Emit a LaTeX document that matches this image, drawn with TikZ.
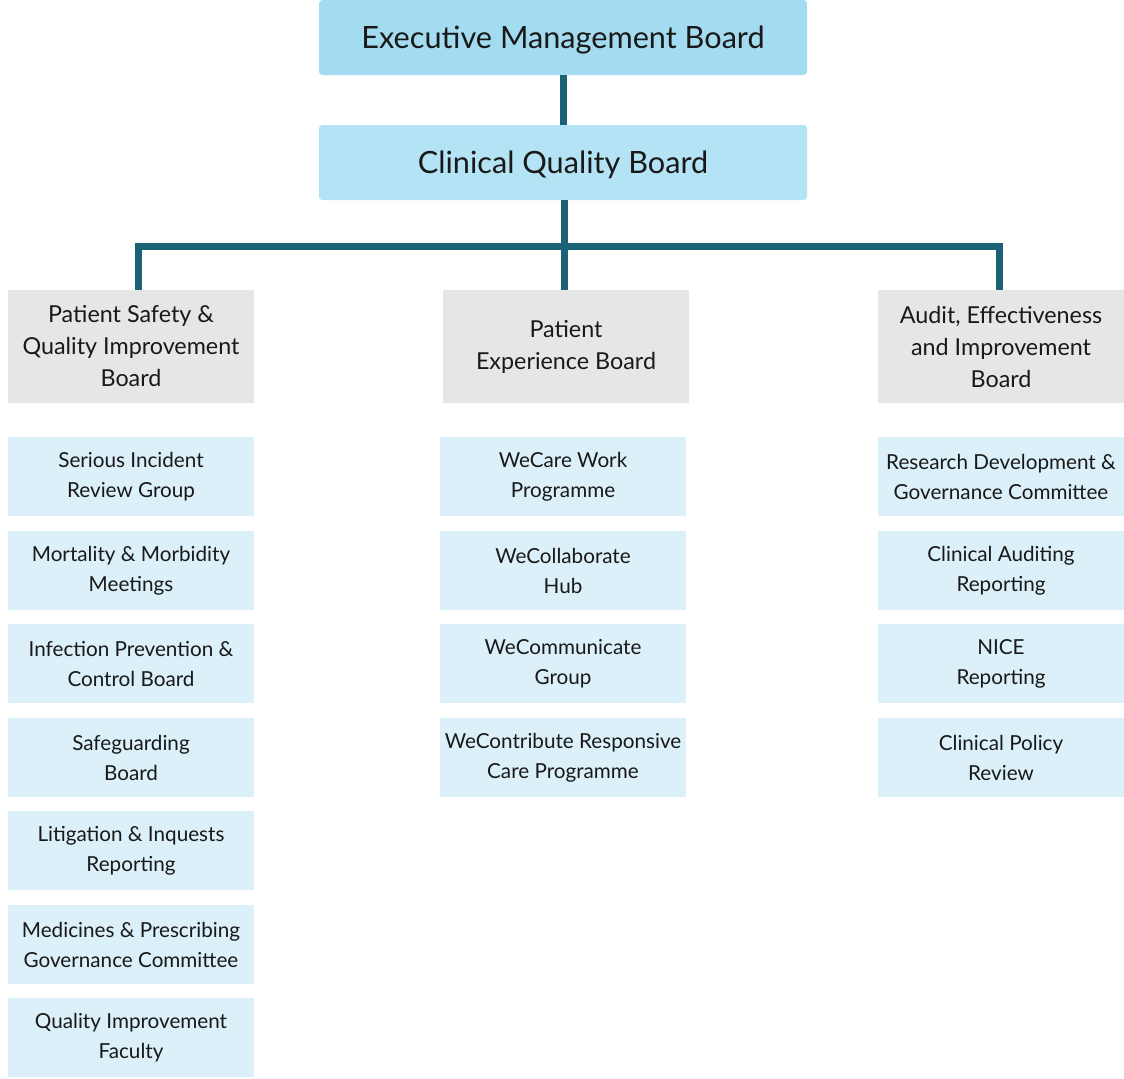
\documentclass[tikz,border=0pt]{standalone}
\usepackage{fontspec}
\setmainfont{Lato}
\usetikzlibrary{positioning}

\definecolor{topblue}{HTML}{A3DBF0}
\definecolor{midblue}{HTML}{B3E3F5}
\definecolor{boardgrey}{HTML}{E5E6E6}
\definecolor{groupblue}{HTML}{DBF0F8}
\definecolor{linkteal}{HTML}{1B6276}

\begin{document}
\begin{tikzpicture}[x=0.75pt, y=-0.75pt]

		\tikzstyle{top}=[rectangle, rounded corners=2.5pt, fill=topblue, text=black!90, minimum width=366pt, minimum height=56.25pt, text depth=0pt, font=\fontsize{23}{28}\selectfont]
		\tikzstyle{quality}=[top, fill=midblue]
		\tikzstyle{board}=[rectangle, fill=boardgrey, text=black!90, minimum width=184.5pt, minimum height=84.75pt, inner sep=0pt, align=center, font=\fontsize{17.5}{24}\selectfont]
		\tikzstyle{group}=[rectangle, fill=groupblue, text=black!90, minimum width=184.5pt, minimum height=59.25pt, inner sep=0pt, align=center, font=\fontsize{15.5}{22.5}\selectfont]
		\tikzstyle{link}=[line width=5.25pt, linkteal]

		\useasboundingbox (0,0) rectangle (1124,1078);

		\node[top] (emb) at (563,37.5) {Executive Management Board};
		\node[quality] (cqb) at (563,162.5) {Clinical Quality Board};

		\node[board] (psq) at (131,346.5) {Patient Safety \&\\Quality Improvement\\Board};
		\node[board] (peb) at (566,346.5) {Patient\\Experience Board};
		\node[board] (aei) at (1001,346.5) {Audit, Effectiveness\\and Improvement\\Board};

		% safety and quality groups
		\node[group] (sirg) at (131,476.5) {Serious Incident\\Review Group};
		\node[group] (mmm) at (131,570.5) {Mortality \& Morbidity\\Meetings};
		\node[group] (ipc) at (131,663.5) {Infection Prevention \&\\Control Board};
		\node[group] (sgb) at (131,757.5) {Safeguarding\\Board};
		\node[group] (lir) at (131,850.5) {Litigation \& Inquests\\Reporting};
		\node[group] (mpg) at (131,944.5) {Medicines \& Prescribing\\Governance Committee};
		\node[group] (qif) at (131,1037.5) {Quality Improvement\\Faculty};

		% experience groups
		\node[group] (wcw) at (563,476.5) {WeCare Work\\Programme};
		\node[group] (wch) at (563,570.5) {WeCollaborate\\Hub};
		\node[group] (wcg) at (563,663.5) {WeCommunicate\\Group};
		\node[group] (wcr) at (563,757.5) {WeContribute Responsive\\Care Programme};

		% audit groups
		\node[group] (rdg) at (1001,476.5) {Research Development \&\\Governance Committee};
		\node[group] (car) at (1001,570.5) {Clinical Auditing\\Reporting};
		\node[group] (ncr) at (1001,663.5) {NICE\\Reporting};
		\node[group] (cpr) at (1001,757.5) {Clinical Policy\\Review};

		% board links
		\coordinate (bus) at (564,246.5);
		\draw[link] (emb.south) -- (cqb.north);
		\draw[link] (cqb.south -| bus) -- (peb.north -| bus);
		\draw[link] ([xshift=5.6pt]psq.north) |- (bus) -| ([xshift=-1.1pt]aei.north);

\end{tikzpicture}
\end{document}
